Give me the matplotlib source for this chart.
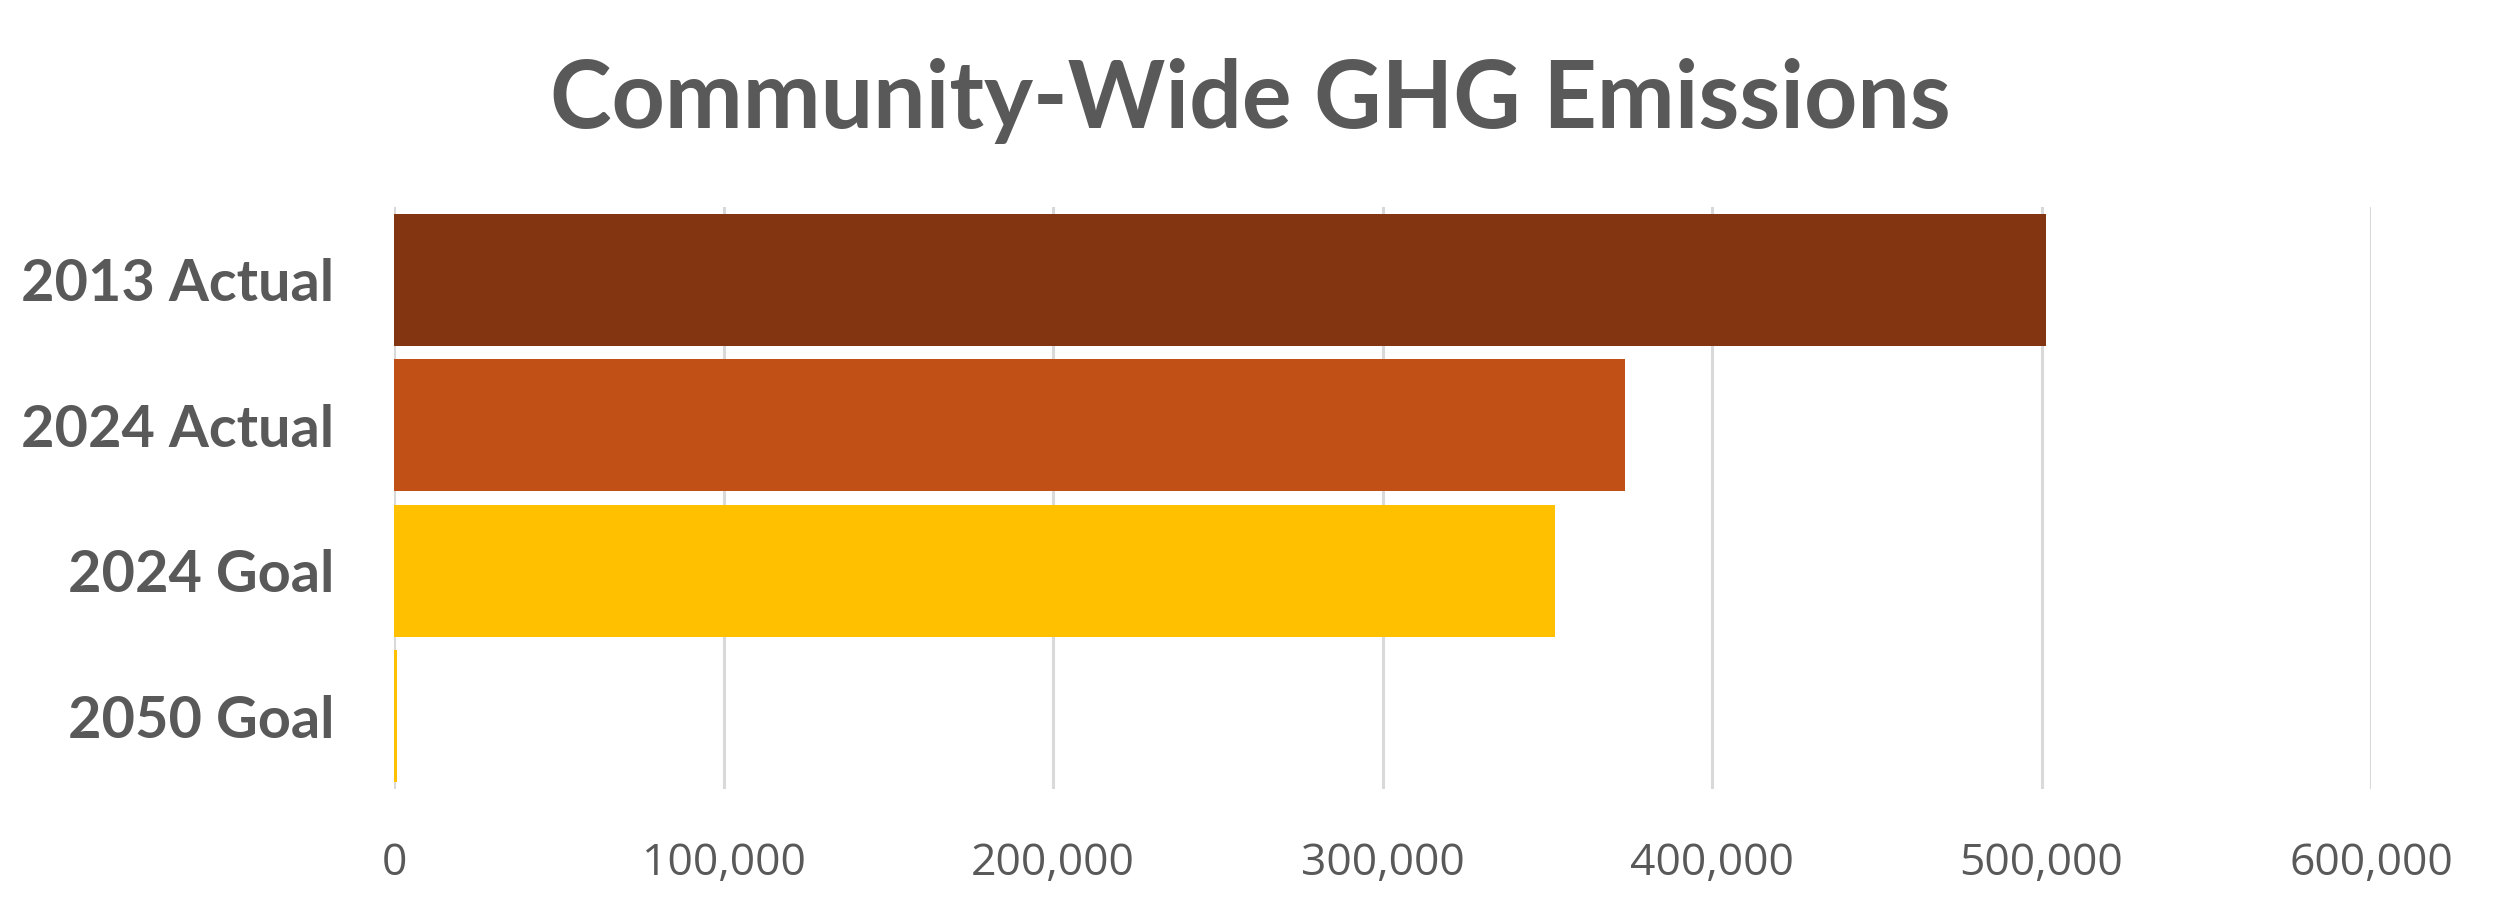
import matplotlib
matplotlib.use("Agg")
import matplotlib.pyplot as plt
from matplotlib.ticker import FuncFormatter

categories = ["2013 Actual", "2024 Actual", "2024 Goal", "2050 Goal"]
emissions = [501400, 373600, 352400, 800]
bar_colors = ["#833511", "#C05015", "#FFC000", "#FFC000"]
x_ticks = [0, 100000, 200000, 300000, 400000, 500000, 600000]

text_grey = "#595959"

fig = plt.figure(figsize=(25, 9.1), dpi=100)
ax = fig.add_axes([0.1576, 0.133, 0.9484 - 0.1576, 0.7725 - 0.133])

y = list(range(len(categories)))
ax.barh(y, emissions, height=1 / 1.1, color=bar_colors, zorder=3)
ax.set_ylim(3.5, -0.5)
ax.set_xlim(0, 600000)
ax.set_xticks(x_ticks)
ax.xaxis.set_major_formatter(FuncFormatter(lambda v, p: f"{int(v):,}"))
ax.set_yticks(y)
ax.set_yticklabels(categories, fontsize=41.5, fontweight="bold", color=text_grey,
                   family="Lato")
for t in ax.get_xticklabels():
    t.set_family("Open Sans")
ax.tick_params(axis="x", labelsize=32, colors=text_grey, length=0, pad=38)
ax.tick_params(axis="y", length=0, pad=43)
ax.grid(axis="x", color="#D9D9D9", linewidth=2.2, zorder=0)
for s in ax.spines.values():
    s.set_visible(False)

fig.text(0.5, 1 - 128 / 910, "Community-Wide GHG Emissions", fontsize=67,
         fontweight="bold", color=text_grey, family="Lato",
         ha="center", va="baseline")

fig.savefig("out.png", dpi=100)
